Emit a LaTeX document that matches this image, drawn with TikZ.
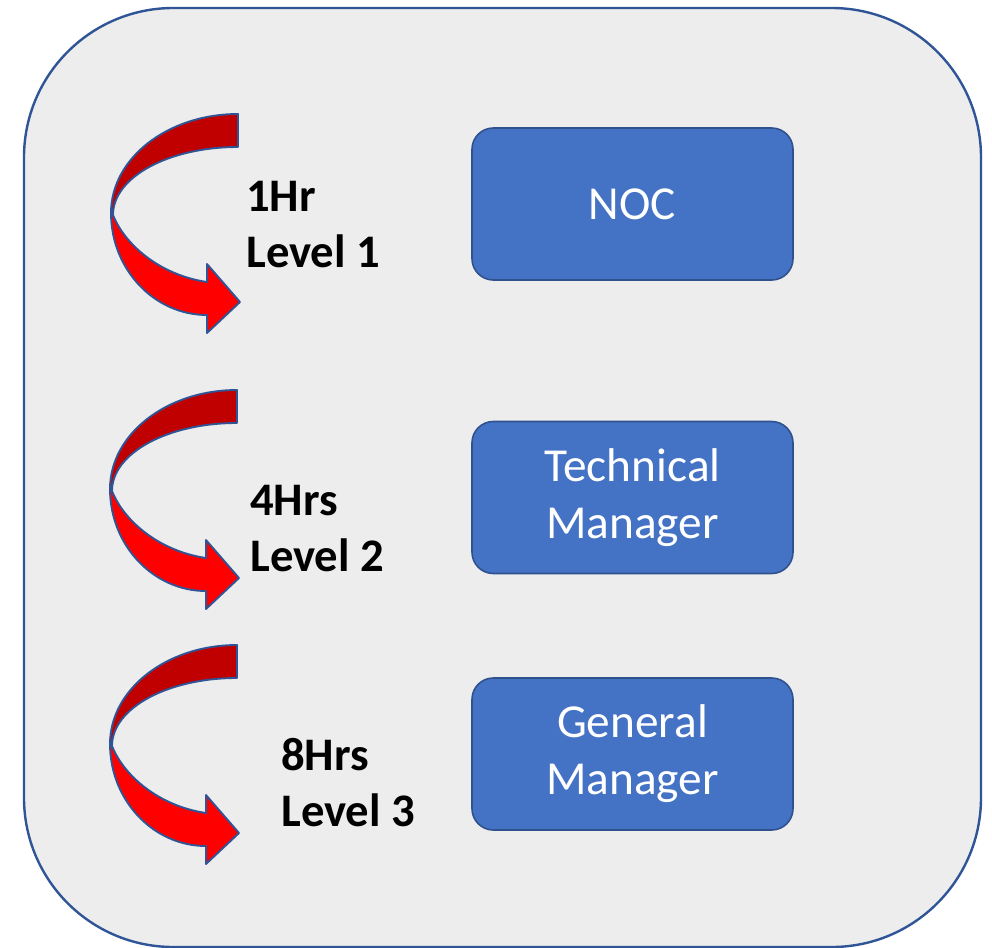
\documentclass[tikz,border=0pt]{standalone}
\usepackage{fontspec}
\setmainfont{Carlito}
\definecolor{panelfill}{HTML}{EDEDED}
\definecolor{panelline}{HTML}{2F5597}
\definecolor{boxfill}{HTML}{4472C4}
\definecolor{boxline}{HTML}{2F528F}
\definecolor{darkred}{HTML}{C00000}
\definecolor{brightred}{HTML}{FF0000}
\tikzset{
  panel/.style={fill=panelfill, draw=panelline, line width=1.8pt, rounded corners=112pt},
  rolebox/.style={rectangle, fill=boxfill, draw=boxline, line width=1.2pt, rounded corners=16pt,
    minimum width=240.75pt, minimum height=114pt, text=white, align=center,
    font=\fontsize{35.5}{42.8}\selectfont},
  timelabel/.style={anchor=base west, inner sep=0pt, align=left,
    font=\fontsize{35}{42}\selectfont\bfseries},
  backpart/.style={fill=darkred, draw=panelline, line width=1.4pt, line join=round},
  frontpart/.style={fill=brightred, draw=panelline, line width=1.4pt, line join=round},
}
\newcommand{\turnarrow}[2]{%
  \begin{scope}[shift={(#1,#2)}]
    \path[backpart] (238,114) .. controls (168,114) and (111,158) .. (111,213)
      -- (113,215) .. controls (113,177) and (169,147) .. (238,147) -- cycle;
    \path[frontpart] (111,213) .. controls (111,269) and (154,315) .. (207,315)
      -- (207,333) -- (240,302) -- (207,264) -- (207,282)
      .. controls (160,275) and (125,245) .. (113,215) -- cycle;
  \end{scope}}
\begin{document}
\begin{tikzpicture}[x=0.75pt,y=-0.75pt]
\useasboundingbox (0,0) rectangle (992,947);
\path[panel] (24,8) rectangle (981,947);
\turnarrow{0}{0}
\turnarrow{-1}{276}
\turnarrow{-1}{531}
\node[rolebox] (noc) at (632.5,204) {NOC};
\node[rolebox] (tm) at (632.5,497.5) {\raisebox{-1.5pt}{\parbox{5cm}{\centering Technical\\Manager}}};
\node[rolebox] (gm) at (632.5,754) {\raisebox{-1.5pt}{\parbox{5cm}{\centering General\\Manager}}};
\node[timelabel] (l1) at (246,267) {1Hr\\Level 1};
\node[timelabel] (l2) at (250,571) {4Hrs\\Level 2};
\node[timelabel] (l3) at (281,826) {8Hrs\\Level 3};
\end{tikzpicture}
\end{document}
